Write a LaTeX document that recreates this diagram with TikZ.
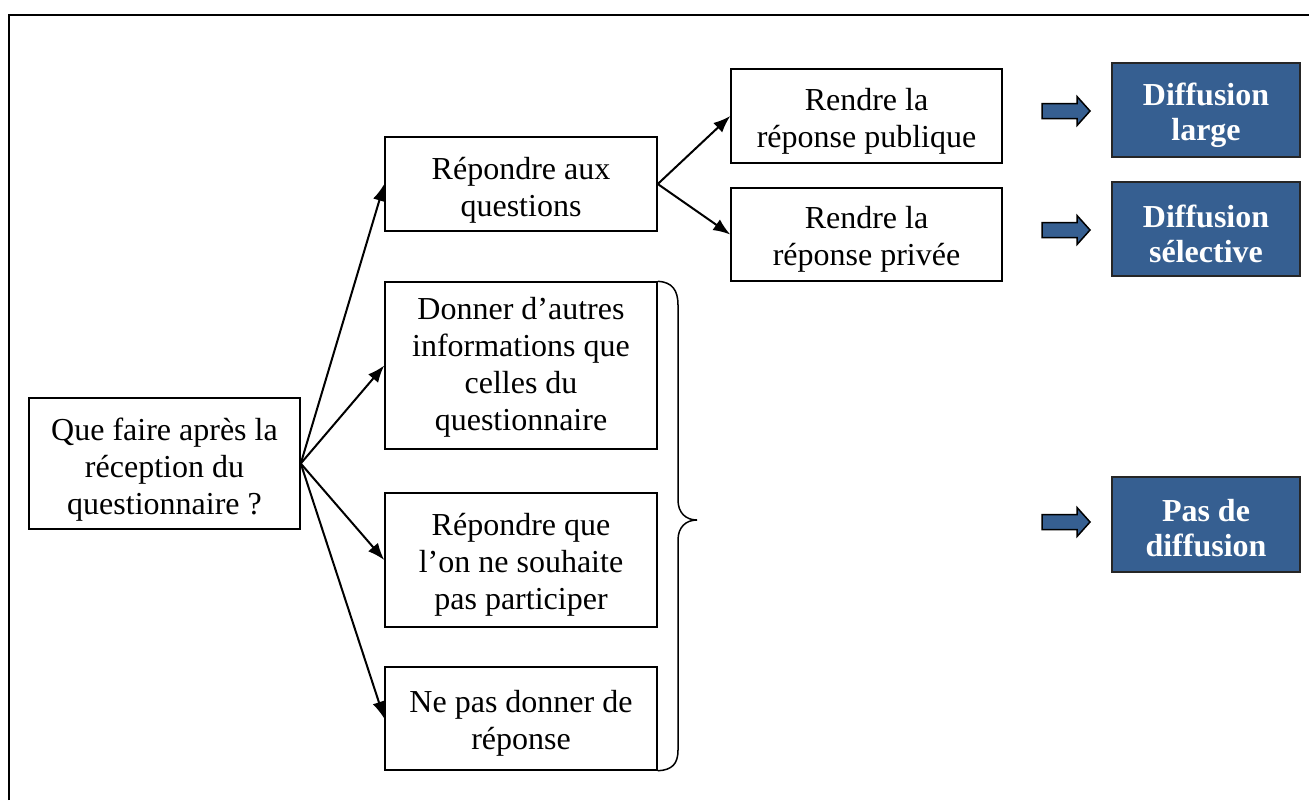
\documentclass[tikz,border=0pt]{standalone}
\usepackage{fontspec}
\setmainfont{Liberation Serif}
\usetikzlibrary{arrows.meta}
\definecolor{dblue}{RGB}{54,95,145}
\tikzset{
  box/.style={draw=black, line width=0.75pt, inner sep=0pt},
  txt/.style={align=center, inner sep=0pt, font=\fontsize{16}{18.5}\selectfont},
  bluebox/.style={draw=black!85, line width=0.75pt, fill=dblue, inner sep=0pt},
  bluetxt/.style={text=white, align=center, inner sep=0pt, font=\fontsize{16}{17.5}\selectfont\bfseries},
  conn/.style={line width=1pt, -{Latex[length=8.5pt,width=6.5pt]}},
  blockarrow/.style={draw=black, line width=0.75pt, fill=dblue, line join=miter},
}
\begin{document}
\begin{tikzpicture}[x=0.5pt,y=-0.5pt]
\useasboundingbox (0,0) rectangle (1309,800);
% frame
\draw[line width=1pt] (9,800) -- (9,15) -- (1309,15);
% boxes
\node[box, minimum width=135.5pt, minimum height=65.5pt] (src) at (164.5,463.5) {};
\node[box, minimum width=136pt, minimum height=47pt] (rep) at (521,184) {};
\node[box, minimum width=135.5pt, minimum height=47pt] (pub) at (866.5,116) {};
\node[box, minimum width=135.5pt, minimum height=46.5pt] (priv) at (866.5,234.5) {};
\node[box, minimum width=136pt, minimum height=83.5pt] (don) at (521,365.5) {};
\node[box, minimum width=136pt, minimum height=67pt] (rque) at (521,560) {};
\node[box, minimum width=136pt, minimum height=51.5pt] (nep) at (521,718.5) {};
\node[bluebox, minimum width=94pt, minimum height=47pt] (b1) at (1206,110) {};
\node[bluebox, minimum width=94pt, minimum height=47pt] (b2) at (1206,229) {};
\node[bluebox, minimum width=94pt, minimum height=47.5pt] (b3) at (1206,524.5) {};
% texts
\node[txt] (srct) at ([yshift=-3pt]src.center) {Que faire après la\\réception du\\questionnaire ?};
\node[txt] (rept) at ([yshift=-3pt]rep.center) {Répondre aux\\questions};
\node[txt] (pubt) at ([yshift=-2.5pt]pub.center) {Rendre la\\réponse publique};
\node[txt] (privt) at ([yshift=-2.5pt]priv.center) {Rendre la\\réponse privée};
\node[txt] (dont) at ([yshift=-1pt]don.center) {Donner d’autres\\informations que\\celles du\\questionnaire};
\node[txt] (rquet) at ([yshift=-2.5pt]rque.center) {Répondre que\\l’on ne souhaite\\pas participer};
\node[txt] (nept) at ([yshift=-2.5pt]nep.center) {Ne pas donner de\\réponse};
\node[bluetxt] (b1t) at ([yshift=-2.5pt]b1.center) {Diffusion\\large};
\node[bluetxt] (b2t) at ([yshift=-2.5pt]b2.center) {Diffusion\\sélective};
\node[bluetxt] (b3t) at ([yshift=-2pt]b3.center) {Pas de\\diffusion};
% connectors
\draw[conn] (src.east) -- (rep.west);
\draw[conn] (src.east) -- (don.west);
\draw[conn] (src.east) -- (rque.west);
\draw[conn] (src.east) -- (nep.west);
\draw[conn] (rep.east) -- (pub.west);
\draw[conn] (rep.east) -- (priv.west);
% brace
\draw[line width=0.75pt] (don.north east) .. controls (672,282) and (678,290) .. (678,305)
  -- (678,500) .. controls (678,513) and (686,520) .. (697,520)
  .. controls (686,520) and (678,527) .. (678,540)
  -- (678,750) .. controls (678,764) and (672,770) .. (nep.south east);
% block arrows
\foreach \c in {111,230,522}{
  \draw[blockarrow] (1042,\c-7.5) -- (1077,\c-7.5) -- (1077,\c-14.5) -- (1090,\c)
    -- (1077,\c+14.5) -- (1077,\c+7.5) -- (1042,\c+7.5) -- cycle;
}
\end{tikzpicture}
\end{document}
